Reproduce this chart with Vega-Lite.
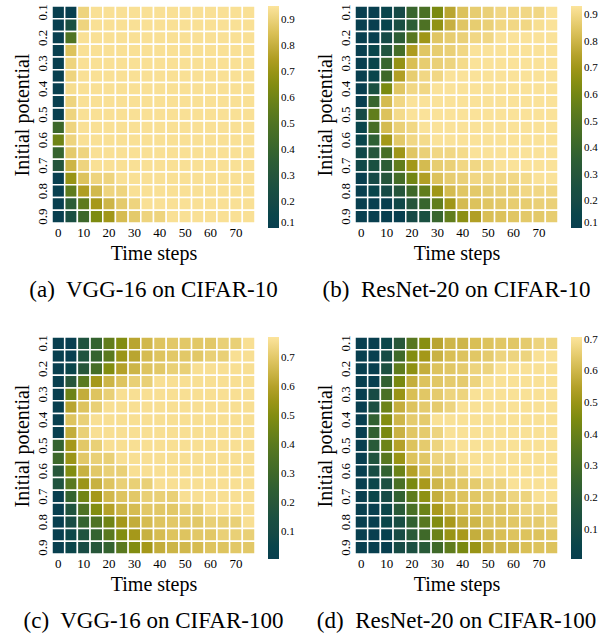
{
"$schema":"https://vega.github.io/schema/vega-lite/v6.json",
"padding":{"left":12,"top":3,"right":2,"bottom":2},
"config":{"font":"Liberation Serif","view":{"stroke":null},
"axis":{"domain":false,"ticks":false,"labelFont":"Liberation Serif","titleFont":"Liberation Serif","labelColor":"black","titleColor":"black","labelFontSize":13,"titleFontSize":20,"titleFontWeight":"normal","labelPadding":3},
"legend":{"labelFont":"Liberation Serif","labelFontSize":11,"labelColor":"black","gradientThickness":11,"gradientLength":222,"gradientStrokeWidth":0,"offset":13,"labelOffset":6},
"title":{"font":"Liberation Serif","fontSize":23,"fontWeight":"normal","color":"black"}},
"datasets":{
"a":[
{"y":0.1,"t":0,"v":0.1},{"y":0.1,"t":5,"v":0.1},{"y":0.1,"t":10,"v":0.91},{"y":0.1,"t":15,"v":0.945},{"y":0.1,"t":20,"v":0.945},{"y":0.1,"t":25,"v":0.945},{"y":0.1,"t":30,"v":0.945},{"y":0.1,"t":35,"v":0.945},{"y":0.1,"t":40,"v":0.945},{"y":0.1,"t":45,"v":0.945},{"y":0.1,"t":50,"v":0.945},{"y":0.1,"t":55,"v":0.945},{"y":0.1,"t":60,"v":0.945},{"y":0.1,"t":65,"v":0.945},{"y":0.1,"t":70,"v":0.945},{"y":0.1,"t":75,"v":0.945},
{"y":0.15,"t":0,"v":0.1},{"y":0.15,"t":5,"v":0.25},{"y":0.15,"t":10,"v":0.91},{"y":0.15,"t":15,"v":0.945},{"y":0.15,"t":20,"v":0.945},{"y":0.15,"t":25,"v":0.945},{"y":0.15,"t":30,"v":0.945},{"y":0.15,"t":35,"v":0.945},{"y":0.15,"t":40,"v":0.945},{"y":0.15,"t":45,"v":0.945},{"y":0.15,"t":50,"v":0.945},{"y":0.15,"t":55,"v":0.945},{"y":0.15,"t":60,"v":0.945},{"y":0.15,"t":65,"v":0.945},{"y":0.15,"t":70,"v":0.945},{"y":0.15,"t":75,"v":0.945},
{"y":0.2,"t":0,"v":0.1},{"y":0.2,"t":5,"v":0.5},{"y":0.2,"t":10,"v":0.945},{"y":0.2,"t":15,"v":0.945},{"y":0.2,"t":20,"v":0.945},{"y":0.2,"t":25,"v":0.945},{"y":0.2,"t":30,"v":0.945},{"y":0.2,"t":35,"v":0.945},{"y":0.2,"t":40,"v":0.945},{"y":0.2,"t":45,"v":0.945},{"y":0.2,"t":50,"v":0.945},{"y":0.2,"t":55,"v":0.945},{"y":0.2,"t":60,"v":0.945},{"y":0.2,"t":65,"v":0.945},{"y":0.2,"t":70,"v":0.945},{"y":0.2,"t":75,"v":0.945},
{"y":0.25,"t":0,"v":0.1},{"y":0.25,"t":5,"v":0.86},{"y":0.25,"t":10,"v":0.945},{"y":0.25,"t":15,"v":0.945},{"y":0.25,"t":20,"v":0.945},{"y":0.25,"t":25,"v":0.945},{"y":0.25,"t":30,"v":0.945},{"y":0.25,"t":35,"v":0.945},{"y":0.25,"t":40,"v":0.945},{"y":0.25,"t":45,"v":0.945},{"y":0.25,"t":50,"v":0.945},{"y":0.25,"t":55,"v":0.945},{"y":0.25,"t":60,"v":0.945},{"y":0.25,"t":65,"v":0.945},{"y":0.25,"t":70,"v":0.945},{"y":0.25,"t":75,"v":0.945},
{"y":0.3,"t":0,"v":0.1},{"y":0.3,"t":5,"v":0.91},{"y":0.3,"t":10,"v":0.945},{"y":0.3,"t":15,"v":0.945},{"y":0.3,"t":20,"v":0.945},{"y":0.3,"t":25,"v":0.945},{"y":0.3,"t":30,"v":0.945},{"y":0.3,"t":35,"v":0.945},{"y":0.3,"t":40,"v":0.945},{"y":0.3,"t":45,"v":0.945},{"y":0.3,"t":50,"v":0.945},{"y":0.3,"t":55,"v":0.945},{"y":0.3,"t":60,"v":0.945},{"y":0.3,"t":65,"v":0.945},{"y":0.3,"t":70,"v":0.945},{"y":0.3,"t":75,"v":0.945},
{"y":0.35,"t":0,"v":0.1},{"y":0.35,"t":5,"v":0.91},{"y":0.35,"t":10,"v":0.945},{"y":0.35,"t":15,"v":0.945},{"y":0.35,"t":20,"v":0.945},{"y":0.35,"t":25,"v":0.945},{"y":0.35,"t":30,"v":0.945},{"y":0.35,"t":35,"v":0.945},{"y":0.35,"t":40,"v":0.945},{"y":0.35,"t":45,"v":0.945},{"y":0.35,"t":50,"v":0.945},{"y":0.35,"t":55,"v":0.945},{"y":0.35,"t":60,"v":0.945},{"y":0.35,"t":65,"v":0.945},{"y":0.35,"t":70,"v":0.945},{"y":0.35,"t":75,"v":0.945},
{"y":0.4,"t":0,"v":0.1},{"y":0.4,"t":5,"v":0.935},{"y":0.4,"t":10,"v":0.945},{"y":0.4,"t":15,"v":0.945},{"y":0.4,"t":20,"v":0.945},{"y":0.4,"t":25,"v":0.945},{"y":0.4,"t":30,"v":0.945},{"y":0.4,"t":35,"v":0.945},{"y":0.4,"t":40,"v":0.945},{"y":0.4,"t":45,"v":0.945},{"y":0.4,"t":50,"v":0.945},{"y":0.4,"t":55,"v":0.945},{"y":0.4,"t":60,"v":0.945},{"y":0.4,"t":65,"v":0.945},{"y":0.4,"t":70,"v":0.945},{"y":0.4,"t":75,"v":0.945},
{"y":0.45,"t":0,"v":0.1},{"y":0.45,"t":5,"v":0.91},{"y":0.45,"t":10,"v":0.945},{"y":0.45,"t":15,"v":0.945},{"y":0.45,"t":20,"v":0.945},{"y":0.45,"t":25,"v":0.945},{"y":0.45,"t":30,"v":0.945},{"y":0.45,"t":35,"v":0.945},{"y":0.45,"t":40,"v":0.945},{"y":0.45,"t":45,"v":0.945},{"y":0.45,"t":50,"v":0.945},{"y":0.45,"t":55,"v":0.945},{"y":0.45,"t":60,"v":0.945},{"y":0.45,"t":65,"v":0.945},{"y":0.45,"t":70,"v":0.945},{"y":0.45,"t":75,"v":0.945},
{"y":0.5,"t":0,"v":0.1},{"y":0.5,"t":5,"v":0.91},{"y":0.5,"t":10,"v":0.945},{"y":0.5,"t":15,"v":0.945},{"y":0.5,"t":20,"v":0.945},{"y":0.5,"t":25,"v":0.945},{"y":0.5,"t":30,"v":0.945},{"y":0.5,"t":35,"v":0.945},{"y":0.5,"t":40,"v":0.945},{"y":0.5,"t":45,"v":0.945},{"y":0.5,"t":50,"v":0.945},{"y":0.5,"t":55,"v":0.945},{"y":0.5,"t":60,"v":0.945},{"y":0.5,"t":65,"v":0.945},{"y":0.5,"t":70,"v":0.945},{"y":0.5,"t":75,"v":0.945},
{"y":0.55,"t":0,"v":0.42},{"y":0.55,"t":5,"v":0.91},{"y":0.55,"t":10,"v":0.945},{"y":0.55,"t":15,"v":0.945},{"y":0.55,"t":20,"v":0.945},{"y":0.55,"t":25,"v":0.945},{"y":0.55,"t":30,"v":0.945},{"y":0.55,"t":35,"v":0.945},{"y":0.55,"t":40,"v":0.945},{"y":0.55,"t":45,"v":0.945},{"y":0.55,"t":50,"v":0.945},{"y":0.55,"t":55,"v":0.945},{"y":0.55,"t":60,"v":0.945},{"y":0.55,"t":65,"v":0.945},{"y":0.55,"t":70,"v":0.945},{"y":0.55,"t":75,"v":0.945},
{"y":0.6,"t":0,"v":0.6},{"y":0.6,"t":5,"v":0.91},{"y":0.6,"t":10,"v":0.945},{"y":0.6,"t":15,"v":0.945},{"y":0.6,"t":20,"v":0.945},{"y":0.6,"t":25,"v":0.945},{"y":0.6,"t":30,"v":0.945},{"y":0.6,"t":35,"v":0.945},{"y":0.6,"t":40,"v":0.945},{"y":0.6,"t":45,"v":0.945},{"y":0.6,"t":50,"v":0.945},{"y":0.6,"t":55,"v":0.945},{"y":0.6,"t":60,"v":0.945},{"y":0.6,"t":65,"v":0.945},{"y":0.6,"t":70,"v":0.945},{"y":0.6,"t":75,"v":0.945},
{"y":0.65,"t":0,"v":0.4},{"y":0.65,"t":5,"v":0.88},{"y":0.65,"t":10,"v":0.91},{"y":0.65,"t":15,"v":0.945},{"y":0.65,"t":20,"v":0.945},{"y":0.65,"t":25,"v":0.945},{"y":0.65,"t":30,"v":0.945},{"y":0.65,"t":35,"v":0.945},{"y":0.65,"t":40,"v":0.945},{"y":0.65,"t":45,"v":0.945},{"y":0.65,"t":50,"v":0.945},{"y":0.65,"t":55,"v":0.945},{"y":0.65,"t":60,"v":0.945},{"y":0.65,"t":65,"v":0.945},{"y":0.65,"t":70,"v":0.945},{"y":0.65,"t":75,"v":0.945},
{"y":0.7,"t":0,"v":0.3},{"y":0.7,"t":5,"v":0.82},{"y":0.7,"t":10,"v":0.91},{"y":0.7,"t":15,"v":0.945},{"y":0.7,"t":20,"v":0.945},{"y":0.7,"t":25,"v":0.945},{"y":0.7,"t":30,"v":0.945},{"y":0.7,"t":35,"v":0.945},{"y":0.7,"t":40,"v":0.945},{"y":0.7,"t":45,"v":0.945},{"y":0.7,"t":50,"v":0.945},{"y":0.7,"t":55,"v":0.945},{"y":0.7,"t":60,"v":0.945},{"y":0.7,"t":65,"v":0.945},{"y":0.7,"t":70,"v":0.945},{"y":0.7,"t":75,"v":0.945},
{"y":0.75,"t":0,"v":0.1},{"y":0.75,"t":5,"v":0.7},{"y":0.75,"t":10,"v":0.86},{"y":0.75,"t":15,"v":0.91},{"y":0.75,"t":20,"v":0.91},{"y":0.75,"t":25,"v":0.945},{"y":0.75,"t":30,"v":0.945},{"y":0.75,"t":35,"v":0.945},{"y":0.75,"t":40,"v":0.945},{"y":0.75,"t":45,"v":0.945},{"y":0.75,"t":50,"v":0.945},{"y":0.75,"t":55,"v":0.945},{"y":0.75,"t":60,"v":0.945},{"y":0.75,"t":65,"v":0.945},{"y":0.75,"t":70,"v":0.945},{"y":0.75,"t":75,"v":0.945},
{"y":0.8,"t":0,"v":0.1},{"y":0.8,"t":5,"v":0.55},{"y":0.8,"t":10,"v":0.75},{"y":0.8,"t":15,"v":0.83},{"y":0.8,"t":20,"v":0.91},{"y":0.8,"t":25,"v":0.91},{"y":0.8,"t":30,"v":0.945},{"y":0.8,"t":35,"v":0.945},{"y":0.8,"t":40,"v":0.945},{"y":0.8,"t":45,"v":0.945},{"y":0.8,"t":50,"v":0.945},{"y":0.8,"t":55,"v":0.945},{"y":0.8,"t":60,"v":0.945},{"y":0.8,"t":65,"v":0.945},{"y":0.8,"t":70,"v":0.945},{"y":0.8,"t":75,"v":0.945},
{"y":0.85,"t":0,"v":0.1},{"y":0.85,"t":5,"v":0.35},{"y":0.85,"t":10,"v":0.55},{"y":0.85,"t":15,"v":0.73},{"y":0.85,"t":20,"v":0.82},{"y":0.85,"t":25,"v":0.88},{"y":0.85,"t":30,"v":0.91},{"y":0.85,"t":35,"v":0.945},{"y":0.85,"t":40,"v":0.945},{"y":0.85,"t":45,"v":0.945},{"y":0.85,"t":50,"v":0.945},{"y":0.85,"t":55,"v":0.945},{"y":0.85,"t":60,"v":0.945},{"y":0.85,"t":65,"v":0.945},{"y":0.85,"t":70,"v":0.945},{"y":0.85,"t":75,"v":0.945},
{"y":0.9,"t":0,"v":0.1},{"y":0.9,"t":5,"v":0.25},{"y":0.9,"t":10,"v":0.42},{"y":0.9,"t":15,"v":0.64},{"y":0.9,"t":20,"v":0.72},{"y":0.9,"t":25,"v":0.84},{"y":0.9,"t":30,"v":0.88},{"y":0.9,"t":35,"v":0.91},{"y":0.9,"t":40,"v":0.91},{"y":0.9,"t":45,"v":0.945},{"y":0.9,"t":50,"v":0.945},{"y":0.9,"t":55,"v":0.945},{"y":0.9,"t":60,"v":0.945},{"y":0.9,"t":65,"v":0.945},{"y":0.9,"t":70,"v":0.945},{"y":0.9,"t":75,"v":0.945}
],
"b":[
{"y":0.1,"t":0,"v":0.1},{"y":0.1,"t":5,"v":0.1},{"y":0.1,"t":10,"v":0.14},{"y":0.1,"t":15,"v":0.2},{"y":0.1,"t":20,"v":0.4},{"y":0.1,"t":25,"v":0.47},{"y":0.1,"t":30,"v":0.62},{"y":0.1,"t":35,"v":0.76},{"y":0.1,"t":40,"v":0.84},{"y":0.1,"t":45,"v":0.87},{"y":0.1,"t":50,"v":0.88},{"y":0.1,"t":55,"v":0.9},{"y":0.1,"t":60,"v":0.9},{"y":0.1,"t":65,"v":0.9},{"y":0.1,"t":70,"v":0.9},{"y":0.1,"t":75,"v":0.93},
{"y":0.15,"t":0,"v":0.1},{"y":0.15,"t":5,"v":0.1},{"y":0.15,"t":10,"v":0.14},{"y":0.15,"t":15,"v":0.24},{"y":0.15,"t":20,"v":0.35},{"y":0.15,"t":25,"v":0.48},{"y":0.15,"t":30,"v":0.67},{"y":0.15,"t":35,"v":0.79},{"y":0.15,"t":40,"v":0.85},{"y":0.15,"t":45,"v":0.87},{"y":0.15,"t":50,"v":0.88},{"y":0.15,"t":55,"v":0.9},{"y":0.15,"t":60,"v":0.9},{"y":0.15,"t":65,"v":0.9},{"y":0.15,"t":70,"v":0.92},{"y":0.15,"t":75,"v":0.93},
{"y":0.2,"t":0,"v":0.1},{"y":0.2,"t":5,"v":0.1},{"y":0.2,"t":10,"v":0.2},{"y":0.2,"t":15,"v":0.35},{"y":0.2,"t":20,"v":0.52},{"y":0.2,"t":25,"v":0.7},{"y":0.2,"t":30,"v":0.85},{"y":0.2,"t":35,"v":0.87},{"y":0.2,"t":40,"v":0.88},{"y":0.2,"t":45,"v":0.9},{"y":0.2,"t":50,"v":0.9},{"y":0.2,"t":55,"v":0.93},{"y":0.2,"t":60,"v":0.93},{"y":0.2,"t":65,"v":0.93},{"y":0.2,"t":70,"v":0.93},{"y":0.2,"t":75,"v":0.93},
{"y":0.25,"t":0,"v":0.1},{"y":0.25,"t":5,"v":0.15},{"y":0.25,"t":10,"v":0.28},{"y":0.25,"t":15,"v":0.45},{"y":0.25,"t":20,"v":0.73},{"y":0.25,"t":25,"v":0.85},{"y":0.25,"t":30,"v":0.87},{"y":0.25,"t":35,"v":0.88},{"y":0.25,"t":40,"v":0.9},{"y":0.25,"t":45,"v":0.93},{"y":0.25,"t":50,"v":0.93},{"y":0.25,"t":55,"v":0.93},{"y":0.25,"t":60,"v":0.93},{"y":0.25,"t":65,"v":0.93},{"y":0.25,"t":70,"v":0.93},{"y":0.25,"t":75,"v":0.93},
{"y":0.3,"t":0,"v":0.1},{"y":0.3,"t":5,"v":0.15},{"y":0.3,"t":10,"v":0.4},{"y":0.3,"t":15,"v":0.68},{"y":0.3,"t":20,"v":0.83},{"y":0.3,"t":25,"v":0.87},{"y":0.3,"t":30,"v":0.88},{"y":0.3,"t":35,"v":0.89},{"y":0.3,"t":40,"v":0.91},{"y":0.3,"t":45,"v":0.93},{"y":0.3,"t":50,"v":0.93},{"y":0.3,"t":55,"v":0.93},{"y":0.3,"t":60,"v":0.93},{"y":0.3,"t":65,"v":0.93},{"y":0.3,"t":70,"v":0.93},{"y":0.3,"t":75,"v":0.93},
{"y":0.35,"t":0,"v":0.1},{"y":0.35,"t":5,"v":0.15},{"y":0.35,"t":10,"v":0.42},{"y":0.35,"t":15,"v":0.74},{"y":0.35,"t":20,"v":0.87},{"y":0.35,"t":25,"v":0.9},{"y":0.35,"t":30,"v":0.9},{"y":0.35,"t":35,"v":0.93},{"y":0.35,"t":40,"v":0.93},{"y":0.35,"t":45,"v":0.93},{"y":0.35,"t":50,"v":0.93},{"y":0.35,"t":55,"v":0.93},{"y":0.35,"t":60,"v":0.93},{"y":0.35,"t":65,"v":0.93},{"y":0.35,"t":70,"v":0.93},{"y":0.35,"t":75,"v":0.93},
{"y":0.4,"t":0,"v":0.1},{"y":0.4,"t":5,"v":0.25},{"y":0.4,"t":10,"v":0.62},{"y":0.4,"t":15,"v":0.85},{"y":0.4,"t":20,"v":0.9},{"y":0.4,"t":25,"v":0.9},{"y":0.4,"t":30,"v":0.93},{"y":0.4,"t":35,"v":0.93},{"y":0.4,"t":40,"v":0.93},{"y":0.4,"t":45,"v":0.93},{"y":0.4,"t":50,"v":0.93},{"y":0.4,"t":55,"v":0.93},{"y":0.4,"t":60,"v":0.93},{"y":0.4,"t":65,"v":0.93},{"y":0.4,"t":70,"v":0.93},{"y":0.4,"t":75,"v":0.93},
{"y":0.45,"t":0,"v":0.1},{"y":0.45,"t":5,"v":0.4},{"y":0.45,"t":10,"v":0.82},{"y":0.45,"t":15,"v":0.9},{"y":0.45,"t":20,"v":0.93},{"y":0.45,"t":25,"v":0.93},{"y":0.45,"t":30,"v":0.93},{"y":0.45,"t":35,"v":0.93},{"y":0.45,"t":40,"v":0.93},{"y":0.45,"t":45,"v":0.93},{"y":0.45,"t":50,"v":0.93},{"y":0.45,"t":55,"v":0.93},{"y":0.45,"t":60,"v":0.93},{"y":0.45,"t":65,"v":0.93},{"y":0.45,"t":70,"v":0.93},{"y":0.45,"t":75,"v":0.93},
{"y":0.5,"t":0,"v":0.2},{"y":0.5,"t":5,"v":0.55},{"y":0.5,"t":10,"v":0.84},{"y":0.5,"t":15,"v":0.91},{"y":0.5,"t":20,"v":0.93},{"y":0.5,"t":25,"v":0.93},{"y":0.5,"t":30,"v":0.93},{"y":0.5,"t":35,"v":0.93},{"y":0.5,"t":40,"v":0.93},{"y":0.5,"t":45,"v":0.93},{"y":0.5,"t":50,"v":0.93},{"y":0.5,"t":55,"v":0.93},{"y":0.5,"t":60,"v":0.93},{"y":0.5,"t":65,"v":0.93},{"y":0.5,"t":70,"v":0.93},{"y":0.5,"t":75,"v":0.93},
{"y":0.55,"t":0,"v":0.15},{"y":0.55,"t":5,"v":0.46},{"y":0.55,"t":10,"v":0.82},{"y":0.55,"t":15,"v":0.88},{"y":0.55,"t":20,"v":0.9},{"y":0.55,"t":25,"v":0.93},{"y":0.55,"t":30,"v":0.93},{"y":0.55,"t":35,"v":0.93},{"y":0.55,"t":40,"v":0.93},{"y":0.55,"t":45,"v":0.93},{"y":0.55,"t":50,"v":0.93},{"y":0.55,"t":55,"v":0.93},{"y":0.55,"t":60,"v":0.93},{"y":0.55,"t":65,"v":0.93},{"y":0.55,"t":70,"v":0.93},{"y":0.55,"t":75,"v":0.93},
{"y":0.6,"t":0,"v":0.15},{"y":0.6,"t":5,"v":0.36},{"y":0.6,"t":10,"v":0.71},{"y":0.6,"t":15,"v":0.86},{"y":0.6,"t":20,"v":0.9},{"y":0.6,"t":25,"v":0.91},{"y":0.6,"t":30,"v":0.93},{"y":0.6,"t":35,"v":0.93},{"y":0.6,"t":40,"v":0.93},{"y":0.6,"t":45,"v":0.93},{"y":0.6,"t":50,"v":0.93},{"y":0.6,"t":55,"v":0.93},{"y":0.6,"t":60,"v":0.93},{"y":0.6,"t":65,"v":0.93},{"y":0.6,"t":70,"v":0.93},{"y":0.6,"t":75,"v":0.93},
{"y":0.65,"t":0,"v":0.18},{"y":0.65,"t":5,"v":0.3},{"y":0.65,"t":10,"v":0.46},{"y":0.65,"t":15,"v":0.7},{"y":0.65,"t":20,"v":0.85},{"y":0.65,"t":25,"v":0.88},{"y":0.65,"t":30,"v":0.9},{"y":0.65,"t":35,"v":0.9},{"y":0.65,"t":40,"v":0.91},{"y":0.65,"t":45,"v":0.93},{"y":0.65,"t":50,"v":0.93},{"y":0.65,"t":55,"v":0.93},{"y":0.65,"t":60,"v":0.93},{"y":0.65,"t":65,"v":0.93},{"y":0.65,"t":70,"v":0.93},{"y":0.65,"t":75,"v":0.93},
{"y":0.7,"t":0,"v":0.18},{"y":0.7,"t":5,"v":0.25},{"y":0.7,"t":10,"v":0.35},{"y":0.7,"t":15,"v":0.55},{"y":0.7,"t":20,"v":0.71},{"y":0.7,"t":25,"v":0.82},{"y":0.7,"t":30,"v":0.87},{"y":0.7,"t":35,"v":0.88},{"y":0.7,"t":40,"v":0.9},{"y":0.7,"t":45,"v":0.9},{"y":0.7,"t":50,"v":0.91},{"y":0.7,"t":55,"v":0.93},{"y":0.7,"t":60,"v":0.93},{"y":0.7,"t":65,"v":0.93},{"y":0.7,"t":70,"v":0.93},{"y":0.7,"t":75,"v":0.93},
{"y":0.75,"t":0,"v":0.1},{"y":0.75,"t":5,"v":0.2},{"y":0.75,"t":10,"v":0.3},{"y":0.75,"t":15,"v":0.45},{"y":0.75,"t":20,"v":0.6},{"y":0.75,"t":25,"v":0.74},{"y":0.75,"t":30,"v":0.84},{"y":0.75,"t":35,"v":0.87},{"y":0.75,"t":40,"v":0.88},{"y":0.75,"t":45,"v":0.9},{"y":0.75,"t":50,"v":0.9},{"y":0.75,"t":55,"v":0.9},{"y":0.75,"t":60,"v":0.9},{"y":0.75,"t":65,"v":0.91},{"y":0.75,"t":70,"v":0.93},{"y":0.75,"t":75,"v":0.93},
{"y":0.8,"t":0,"v":0.1},{"y":0.8,"t":5,"v":0.15},{"y":0.8,"t":10,"v":0.2},{"y":0.8,"t":15,"v":0.3},{"y":0.8,"t":20,"v":0.42},{"y":0.8,"t":25,"v":0.55},{"y":0.8,"t":30,"v":0.7},{"y":0.8,"t":35,"v":0.82},{"y":0.8,"t":40,"v":0.85},{"y":0.8,"t":45,"v":0.86},{"y":0.8,"t":50,"v":0.87},{"y":0.8,"t":55,"v":0.88},{"y":0.8,"t":60,"v":0.88},{"y":0.8,"t":65,"v":0.9},{"y":0.8,"t":70,"v":0.9},{"y":0.8,"t":75,"v":0.9},
{"y":0.85,"t":0,"v":0.1},{"y":0.85,"t":5,"v":0.1},{"y":0.85,"t":10,"v":0.1},{"y":0.85,"t":15,"v":0.18},{"y":0.85,"t":20,"v":0.3},{"y":0.85,"t":25,"v":0.4},{"y":0.85,"t":30,"v":0.55},{"y":0.85,"t":35,"v":0.7},{"y":0.85,"t":40,"v":0.82},{"y":0.85,"t":45,"v":0.84},{"y":0.85,"t":50,"v":0.85},{"y":0.85,"t":55,"v":0.86},{"y":0.85,"t":60,"v":0.87},{"y":0.85,"t":65,"v":0.87},{"y":0.85,"t":70,"v":0.88},{"y":0.85,"t":75,"v":0.88},
{"y":0.9,"t":0,"v":0.1},{"y":0.9,"t":5,"v":0.1},{"y":0.9,"t":10,"v":0.1},{"y":0.9,"t":15,"v":0.1},{"y":0.9,"t":20,"v":0.2},{"y":0.9,"t":25,"v":0.25},{"y":0.9,"t":30,"v":0.4},{"y":0.9,"t":35,"v":0.55},{"y":0.9,"t":40,"v":0.66},{"y":0.9,"t":45,"v":0.74},{"y":0.9,"t":50,"v":0.83},{"y":0.9,"t":55,"v":0.84},{"y":0.9,"t":60,"v":0.85},{"y":0.9,"t":65,"v":0.86},{"y":0.9,"t":70,"v":0.86},{"y":0.9,"t":75,"v":0.87}
],
"c":[
{"y":0.1,"t":0,"v":0.01},{"y":0.1,"t":5,"v":0.01},{"y":0.1,"t":10,"v":0.17},{"y":0.1,"t":15,"v":0.27},{"y":0.1,"t":20,"v":0.42},{"y":0.1,"t":25,"v":0.5},{"y":0.1,"t":30,"v":0.61},{"y":0.1,"t":35,"v":0.66},{"y":0.1,"t":40,"v":0.69},{"y":0.1,"t":45,"v":0.7},{"y":0.1,"t":50,"v":0.7},{"y":0.1,"t":55,"v":0.7},{"y":0.1,"t":60,"v":0.7},{"y":0.1,"t":65,"v":0.72},{"y":0.1,"t":70,"v":0.72},{"y":0.1,"t":75,"v":0.76},
{"y":0.15,"t":0,"v":0.01},{"y":0.15,"t":5,"v":0.01},{"y":0.15,"t":10,"v":0.17},{"y":0.15,"t":15,"v":0.27},{"y":0.15,"t":20,"v":0.4},{"y":0.15,"t":25,"v":0.55},{"y":0.15,"t":30,"v":0.61},{"y":0.15,"t":35,"v":0.67},{"y":0.15,"t":40,"v":0.69},{"y":0.15,"t":45,"v":0.7},{"y":0.15,"t":50,"v":0.7},{"y":0.15,"t":55,"v":0.7},{"y":0.15,"t":60,"v":0.72},{"y":0.15,"t":65,"v":0.72},{"y":0.15,"t":70,"v":0.76},{"y":0.15,"t":75,"v":0.76},
{"y":0.2,"t":0,"v":0.01},{"y":0.2,"t":5,"v":0.06},{"y":0.2,"t":10,"v":0.2},{"y":0.2,"t":15,"v":0.33},{"y":0.2,"t":20,"v":0.5},{"y":0.2,"t":25,"v":0.6},{"y":0.2,"t":30,"v":0.65},{"y":0.2,"t":35,"v":0.69},{"y":0.2,"t":40,"v":0.7},{"y":0.2,"t":45,"v":0.72},{"y":0.2,"t":50,"v":0.72},{"y":0.2,"t":55,"v":0.76},{"y":0.2,"t":60,"v":0.76},{"y":0.2,"t":65,"v":0.76},{"y":0.2,"t":70,"v":0.76},{"y":0.2,"t":75,"v":0.76},
{"y":0.25,"t":0,"v":0.01},{"y":0.25,"t":5,"v":0.2},{"y":0.25,"t":10,"v":0.4},{"y":0.25,"t":15,"v":0.57},{"y":0.25,"t":20,"v":0.65},{"y":0.25,"t":25,"v":0.69},{"y":0.25,"t":30,"v":0.72},{"y":0.25,"t":35,"v":0.72},{"y":0.25,"t":40,"v":0.76},{"y":0.25,"t":45,"v":0.76},{"y":0.25,"t":50,"v":0.76},{"y":0.25,"t":55,"v":0.76},{"y":0.25,"t":60,"v":0.76},{"y":0.25,"t":65,"v":0.76},{"y":0.25,"t":70,"v":0.76},{"y":0.25,"t":75,"v":0.76},
{"y":0.3,"t":0,"v":0.01},{"y":0.3,"t":5,"v":0.45},{"y":0.3,"t":10,"v":0.63},{"y":0.3,"t":15,"v":0.69},{"y":0.3,"t":20,"v":0.72},{"y":0.3,"t":25,"v":0.76},{"y":0.3,"t":30,"v":0.76},{"y":0.3,"t":35,"v":0.76},{"y":0.3,"t":40,"v":0.76},{"y":0.3,"t":45,"v":0.76},{"y":0.3,"t":50,"v":0.76},{"y":0.3,"t":55,"v":0.76},{"y":0.3,"t":60,"v":0.76},{"y":0.3,"t":65,"v":0.76},{"y":0.3,"t":70,"v":0.76},{"y":0.3,"t":75,"v":0.76},
{"y":0.35,"t":0,"v":0.01},{"y":0.35,"t":5,"v":0.61},{"y":0.35,"t":10,"v":0.69},{"y":0.35,"t":15,"v":0.72},{"y":0.35,"t":20,"v":0.76},{"y":0.35,"t":25,"v":0.76},{"y":0.35,"t":30,"v":0.76},{"y":0.35,"t":35,"v":0.76},{"y":0.35,"t":40,"v":0.76},{"y":0.35,"t":45,"v":0.76},{"y":0.35,"t":50,"v":0.76},{"y":0.35,"t":55,"v":0.76},{"y":0.35,"t":60,"v":0.76},{"y":0.35,"t":65,"v":0.76},{"y":0.35,"t":70,"v":0.76},{"y":0.35,"t":75,"v":0.76},
{"y":0.4,"t":0,"v":0.01},{"y":0.4,"t":5,"v":0.69},{"y":0.4,"t":10,"v":0.72},{"y":0.4,"t":15,"v":0.76},{"y":0.4,"t":20,"v":0.76},{"y":0.4,"t":25,"v":0.76},{"y":0.4,"t":30,"v":0.76},{"y":0.4,"t":35,"v":0.76},{"y":0.4,"t":40,"v":0.76},{"y":0.4,"t":45,"v":0.76},{"y":0.4,"t":50,"v":0.76},{"y":0.4,"t":55,"v":0.76},{"y":0.4,"t":60,"v":0.76},{"y":0.4,"t":65,"v":0.76},{"y":0.4,"t":70,"v":0.76},{"y":0.4,"t":75,"v":0.76},
{"y":0.45,"t":0,"v":0.01},{"y":0.45,"t":5,"v":0.63},{"y":0.45,"t":10,"v":0.72},{"y":0.45,"t":15,"v":0.76},{"y":0.45,"t":20,"v":0.76},{"y":0.45,"t":25,"v":0.76},{"y":0.45,"t":30,"v":0.76},{"y":0.45,"t":35,"v":0.76},{"y":0.45,"t":40,"v":0.76},{"y":0.45,"t":45,"v":0.76},{"y":0.45,"t":50,"v":0.76},{"y":0.45,"t":55,"v":0.76},{"y":0.45,"t":60,"v":0.76},{"y":0.45,"t":65,"v":0.76},{"y":0.45,"t":70,"v":0.76},{"y":0.45,"t":75,"v":0.76},
{"y":0.5,"t":0,"v":0.27},{"y":0.5,"t":5,"v":0.57},{"y":0.5,"t":10,"v":0.7},{"y":0.5,"t":15,"v":0.72},{"y":0.5,"t":20,"v":0.76},{"y":0.5,"t":25,"v":0.76},{"y":0.5,"t":30,"v":0.76},{"y":0.5,"t":35,"v":0.76},{"y":0.5,"t":40,"v":0.76},{"y":0.5,"t":45,"v":0.76},{"y":0.5,"t":50,"v":0.76},{"y":0.5,"t":55,"v":0.76},{"y":0.5,"t":60,"v":0.76},{"y":0.5,"t":65,"v":0.76},{"y":0.5,"t":70,"v":0.76},{"y":0.5,"t":75,"v":0.76},
{"y":0.55,"t":0,"v":0.3},{"y":0.55,"t":5,"v":0.55},{"y":0.55,"t":10,"v":0.7},{"y":0.55,"t":15,"v":0.72},{"y":0.55,"t":20,"v":0.72},{"y":0.55,"t":25,"v":0.76},{"y":0.55,"t":30,"v":0.76},{"y":0.55,"t":35,"v":0.76},{"y":0.55,"t":40,"v":0.76},{"y":0.55,"t":45,"v":0.76},{"y":0.55,"t":50,"v":0.76},{"y":0.55,"t":55,"v":0.76},{"y":0.55,"t":60,"v":0.76},{"y":0.55,"t":65,"v":0.76},{"y":0.55,"t":70,"v":0.76},{"y":0.55,"t":75,"v":0.76},
{"y":0.6,"t":0,"v":0.2},{"y":0.6,"t":5,"v":0.5},{"y":0.6,"t":10,"v":0.64},{"y":0.6,"t":15,"v":0.7},{"y":0.6,"t":20,"v":0.72},{"y":0.6,"t":25,"v":0.72},{"y":0.6,"t":30,"v":0.76},{"y":0.6,"t":35,"v":0.76},{"y":0.6,"t":40,"v":0.76},{"y":0.6,"t":45,"v":0.76},{"y":0.6,"t":50,"v":0.76},{"y":0.6,"t":55,"v":0.76},{"y":0.6,"t":60,"v":0.76},{"y":0.6,"t":65,"v":0.76},{"y":0.6,"t":70,"v":0.76},{"y":0.6,"t":75,"v":0.76},
{"y":0.65,"t":0,"v":0.17},{"y":0.65,"t":5,"v":0.4},{"y":0.65,"t":10,"v":0.55},{"y":0.65,"t":15,"v":0.64},{"y":0.65,"t":20,"v":0.69},{"y":0.65,"t":25,"v":0.72},{"y":0.65,"t":30,"v":0.72},{"y":0.65,"t":35,"v":0.72},{"y":0.65,"t":40,"v":0.76},{"y":0.65,"t":45,"v":0.76},{"y":0.65,"t":50,"v":0.76},{"y":0.65,"t":55,"v":0.76},{"y":0.65,"t":60,"v":0.76},{"y":0.65,"t":65,"v":0.76},{"y":0.65,"t":70,"v":0.76},{"y":0.65,"t":75,"v":0.76},
{"y":0.7,"t":0,"v":0.01},{"y":0.7,"t":5,"v":0.27},{"y":0.7,"t":10,"v":0.46},{"y":0.7,"t":15,"v":0.57},{"y":0.7,"t":20,"v":0.66},{"y":0.7,"t":25,"v":0.69},{"y":0.7,"t":30,"v":0.7},{"y":0.7,"t":35,"v":0.72},{"y":0.7,"t":40,"v":0.72},{"y":0.7,"t":45,"v":0.72},{"y":0.7,"t":50,"v":0.76},{"y":0.7,"t":55,"v":0.76},{"y":0.7,"t":60,"v":0.76},{"y":0.7,"t":65,"v":0.76},{"y":0.7,"t":70,"v":0.76},{"y":0.7,"t":75,"v":0.76},
{"y":0.75,"t":0,"v":0.01},{"y":0.75,"t":5,"v":0.17},{"y":0.75,"t":10,"v":0.36},{"y":0.75,"t":15,"v":0.5},{"y":0.75,"t":20,"v":0.6},{"y":0.75,"t":25,"v":0.65},{"y":0.75,"t":30,"v":0.67},{"y":0.75,"t":35,"v":0.7},{"y":0.75,"t":40,"v":0.7},{"y":0.75,"t":45,"v":0.7},{"y":0.75,"t":50,"v":0.72},{"y":0.75,"t":55,"v":0.72},{"y":0.75,"t":60,"v":0.76},{"y":0.75,"t":65,"v":0.76},{"y":0.75,"t":70,"v":0.76},{"y":0.75,"t":75,"v":0.76},
{"y":0.8,"t":0,"v":0.01},{"y":0.8,"t":5,"v":0.12},{"y":0.8,"t":10,"v":0.27},{"y":0.8,"t":15,"v":0.36},{"y":0.8,"t":20,"v":0.46},{"y":0.8,"t":25,"v":0.57},{"y":0.8,"t":30,"v":0.63},{"y":0.8,"t":35,"v":0.67},{"y":0.8,"t":40,"v":0.69},{"y":0.8,"t":45,"v":0.7},{"y":0.8,"t":50,"v":0.7},{"y":0.8,"t":55,"v":0.7},{"y":0.8,"t":60,"v":0.72},{"y":0.8,"t":65,"v":0.72},{"y":0.8,"t":70,"v":0.72},{"y":0.8,"t":75,"v":0.76},
{"y":0.85,"t":0,"v":0.01},{"y":0.85,"t":5,"v":0.07},{"y":0.85,"t":10,"v":0.17},{"y":0.85,"t":15,"v":0.27},{"y":0.85,"t":20,"v":0.4},{"y":0.85,"t":25,"v":0.5},{"y":0.85,"t":30,"v":0.57},{"y":0.85,"t":35,"v":0.64},{"y":0.85,"t":40,"v":0.67},{"y":0.85,"t":45,"v":0.69},{"y":0.85,"t":50,"v":0.69},{"y":0.85,"t":55,"v":0.7},{"y":0.85,"t":60,"v":0.7},{"y":0.85,"t":65,"v":0.72},{"y":0.85,"t":70,"v":0.72},{"y":0.85,"t":75,"v":0.72},
{"y":0.9,"t":0,"v":0.01},{"y":0.9,"t":5,"v":0.06},{"y":0.9,"t":10,"v":0.12},{"y":0.9,"t":15,"v":0.2},{"y":0.9,"t":20,"v":0.27},{"y":0.9,"t":25,"v":0.4},{"y":0.9,"t":30,"v":0.5},{"y":0.9,"t":35,"v":0.57},{"y":0.9,"t":40,"v":0.63},{"y":0.9,"t":45,"v":0.65},{"y":0.9,"t":50,"v":0.66},{"y":0.9,"t":55,"v":0.67},{"y":0.9,"t":60,"v":0.69},{"y":0.9,"t":65,"v":0.69},{"y":0.9,"t":70,"v":0.7},{"y":0.9,"t":75,"v":0.7}
],
"d":[
{"y":0.1,"t":0,"v":0.01},{"y":0.1,"t":5,"v":0.01},{"y":0.1,"t":10,"v":0.06},{"y":0.1,"t":15,"v":0.19},{"y":0.1,"t":20,"v":0.36},{"y":0.1,"t":25,"v":0.47},{"y":0.1,"t":30,"v":0.56},{"y":0.1,"t":35,"v":0.6},{"y":0.1,"t":40,"v":0.6},{"y":0.1,"t":45,"v":0.62},{"y":0.1,"t":50,"v":0.63},{"y":0.1,"t":55,"v":0.64},{"y":0.1,"t":60,"v":0.64},{"y":0.1,"t":65,"v":0.65},{"y":0.1,"t":70,"v":0.67},{"y":0.1,"t":75,"v":0.67},
{"y":0.15,"t":0,"v":0.01},{"y":0.15,"t":5,"v":0.01},{"y":0.15,"t":10,"v":0.1},{"y":0.15,"t":15,"v":0.28},{"y":0.15,"t":20,"v":0.46},{"y":0.15,"t":25,"v":0.52},{"y":0.15,"t":30,"v":0.59},{"y":0.15,"t":35,"v":0.62},{"y":0.15,"t":40,"v":0.63},{"y":0.15,"t":45,"v":0.64},{"y":0.15,"t":50,"v":0.65},{"y":0.15,"t":55,"v":0.67},{"y":0.15,"t":60,"v":0.67},{"y":0.15,"t":65,"v":0.67},{"y":0.15,"t":70,"v":0.7},{"y":0.15,"t":75,"v":0.7},
{"y":0.2,"t":0,"v":0.01},{"y":0.2,"t":5,"v":0.01},{"y":0.2,"t":10,"v":0.14},{"y":0.2,"t":15,"v":0.38},{"y":0.2,"t":20,"v":0.48},{"y":0.2,"t":25,"v":0.58},{"y":0.2,"t":30,"v":0.63},{"y":0.2,"t":35,"v":0.64},{"y":0.2,"t":40,"v":0.65},{"y":0.2,"t":45,"v":0.67},{"y":0.2,"t":50,"v":0.67},{"y":0.2,"t":55,"v":0.7},{"y":0.2,"t":60,"v":0.7},{"y":0.2,"t":65,"v":0.7},{"y":0.2,"t":70,"v":0.7},{"y":0.2,"t":75,"v":0.7},
{"y":0.25,"t":0,"v":0.01},{"y":0.25,"t":5,"v":0.01},{"y":0.25,"t":10,"v":0.24},{"y":0.25,"t":15,"v":0.44},{"y":0.25,"t":20,"v":0.58},{"y":0.25,"t":25,"v":0.63},{"y":0.25,"t":30,"v":0.64},{"y":0.25,"t":35,"v":0.65},{"y":0.25,"t":40,"v":0.65},{"y":0.25,"t":45,"v":0.67},{"y":0.25,"t":50,"v":0.7},{"y":0.25,"t":55,"v":0.7},{"y":0.25,"t":60,"v":0.7},{"y":0.25,"t":65,"v":0.7},{"y":0.25,"t":70,"v":0.7},{"y":0.25,"t":75,"v":0.7},
{"y":0.3,"t":0,"v":0.01},{"y":0.3,"t":5,"v":0.1},{"y":0.3,"t":10,"v":0.32},{"y":0.3,"t":15,"v":0.5},{"y":0.3,"t":20,"v":0.62},{"y":0.3,"t":25,"v":0.64},{"y":0.3,"t":30,"v":0.65},{"y":0.3,"t":35,"v":0.67},{"y":0.3,"t":40,"v":0.67},{"y":0.3,"t":45,"v":0.7},{"y":0.3,"t":50,"v":0.7},{"y":0.3,"t":55,"v":0.7},{"y":0.3,"t":60,"v":0.7},{"y":0.3,"t":65,"v":0.7},{"y":0.3,"t":70,"v":0.7},{"y":0.3,"t":75,"v":0.7},
{"y":0.35,"t":0,"v":0.01},{"y":0.35,"t":5,"v":0.14},{"y":0.35,"t":10,"v":0.41},{"y":0.35,"t":15,"v":0.58},{"y":0.35,"t":20,"v":0.63},{"y":0.35,"t":25,"v":0.65},{"y":0.35,"t":30,"v":0.65},{"y":0.35,"t":35,"v":0.67},{"y":0.35,"t":40,"v":0.7},{"y":0.35,"t":45,"v":0.7},{"y":0.35,"t":50,"v":0.7},{"y":0.35,"t":55,"v":0.7},{"y":0.35,"t":60,"v":0.7},{"y":0.35,"t":65,"v":0.7},{"y":0.35,"t":70,"v":0.7},{"y":0.35,"t":75,"v":0.7},
{"y":0.4,"t":0,"v":0.01},{"y":0.4,"t":5,"v":0.24},{"y":0.4,"t":10,"v":0.46},{"y":0.4,"t":15,"v":0.6},{"y":0.4,"t":20,"v":0.65},{"y":0.4,"t":25,"v":0.65},{"y":0.4,"t":30,"v":0.7},{"y":0.4,"t":35,"v":0.7},{"y":0.4,"t":40,"v":0.7},{"y":0.4,"t":45,"v":0.7},{"y":0.4,"t":50,"v":0.7},{"y":0.4,"t":55,"v":0.7},{"y":0.4,"t":60,"v":0.7},{"y":0.4,"t":65,"v":0.7},{"y":0.4,"t":70,"v":0.7},{"y":0.4,"t":75,"v":0.7},
{"y":0.45,"t":0,"v":0.01},{"y":0.45,"t":5,"v":0.24},{"y":0.45,"t":10,"v":0.44},{"y":0.45,"t":15,"v":0.59},{"y":0.45,"t":20,"v":0.64},{"y":0.45,"t":25,"v":0.65},{"y":0.45,"t":30,"v":0.67},{"y":0.45,"t":35,"v":0.7},{"y":0.45,"t":40,"v":0.7},{"y":0.45,"t":45,"v":0.7},{"y":0.45,"t":50,"v":0.7},{"y":0.45,"t":55,"v":0.7},{"y":0.45,"t":60,"v":0.7},{"y":0.45,"t":65,"v":0.7},{"y":0.45,"t":70,"v":0.7},{"y":0.45,"t":75,"v":0.7},
{"y":0.5,"t":0,"v":0.01},{"y":0.5,"t":5,"v":0.2},{"y":0.5,"t":10,"v":0.41},{"y":0.5,"t":15,"v":0.55},{"y":0.5,"t":20,"v":0.63},{"y":0.5,"t":25,"v":0.65},{"y":0.5,"t":30,"v":0.67},{"y":0.5,"t":35,"v":0.7},{"y":0.5,"t":40,"v":0.7},{"y":0.5,"t":45,"v":0.7},{"y":0.5,"t":50,"v":0.7},{"y":0.5,"t":55,"v":0.7},{"y":0.5,"t":60,"v":0.7},{"y":0.5,"t":65,"v":0.7},{"y":0.5,"t":70,"v":0.7},{"y":0.5,"t":75,"v":0.7},
{"y":0.55,"t":0,"v":0.01},{"y":0.55,"t":5,"v":0.16},{"y":0.55,"t":10,"v":0.36},{"y":0.55,"t":15,"v":0.5},{"y":0.55,"t":20,"v":0.63},{"y":0.55,"t":25,"v":0.64},{"y":0.55,"t":30,"v":0.67},{"y":0.55,"t":35,"v":0.67},{"y":0.55,"t":40,"v":0.7},{"y":0.55,"t":45,"v":0.7},{"y":0.55,"t":50,"v":0.7},{"y":0.55,"t":55,"v":0.7},{"y":0.55,"t":60,"v":0.7},{"y":0.55,"t":65,"v":0.7},{"y":0.55,"t":70,"v":0.7},{"y":0.55,"t":75,"v":0.7},
{"y":0.6,"t":0,"v":0.01},{"y":0.6,"t":5,"v":0.11},{"y":0.6,"t":10,"v":0.24},{"y":0.6,"t":15,"v":0.41},{"y":0.6,"t":20,"v":0.55},{"y":0.6,"t":25,"v":0.62},{"y":0.6,"t":30,"v":0.64},{"y":0.6,"t":35,"v":0.65},{"y":0.6,"t":40,"v":0.67},{"y":0.6,"t":45,"v":0.7},{"y":0.6,"t":50,"v":0.7},{"y":0.6,"t":55,"v":0.7},{"y":0.6,"t":60,"v":0.7},{"y":0.6,"t":65,"v":0.7},{"y":0.6,"t":70,"v":0.7},{"y":0.6,"t":75,"v":0.7},
{"y":0.65,"t":0,"v":0.01},{"y":0.65,"t":5,"v":0.06},{"y":0.65,"t":10,"v":0.14},{"y":0.65,"t":15,"v":0.32},{"y":0.65,"t":20,"v":0.44},{"y":0.65,"t":25,"v":0.53},{"y":0.65,"t":30,"v":0.6},{"y":0.65,"t":35,"v":0.63},{"y":0.65,"t":40,"v":0.64},{"y":0.65,"t":45,"v":0.65},{"y":0.65,"t":50,"v":0.67},{"y":0.65,"t":55,"v":0.67},{"y":0.65,"t":60,"v":0.7},{"y":0.65,"t":65,"v":0.7},{"y":0.65,"t":70,"v":0.7},{"y":0.65,"t":75,"v":0.7},
{"y":0.7,"t":0,"v":0.01},{"y":0.7,"t":5,"v":0.06},{"y":0.7,"t":10,"v":0.1},{"y":0.7,"t":15,"v":0.24},{"y":0.7,"t":20,"v":0.38},{"y":0.7,"t":25,"v":0.48},{"y":0.7,"t":30,"v":0.58},{"y":0.7,"t":35,"v":0.62},{"y":0.7,"t":40,"v":0.63},{"y":0.7,"t":45,"v":0.64},{"y":0.7,"t":50,"v":0.65},{"y":0.7,"t":55,"v":0.65},{"y":0.7,"t":60,"v":0.67},{"y":0.7,"t":65,"v":0.67},{"y":0.7,"t":70,"v":0.7},{"y":0.7,"t":75,"v":0.7},
{"y":0.75,"t":0,"v":0.01},{"y":0.75,"t":5,"v":0.01},{"y":0.75,"t":10,"v":0.06},{"y":0.75,"t":15,"v":0.2},{"y":0.75,"t":20,"v":0.32},{"y":0.75,"t":25,"v":0.41},{"y":0.75,"t":30,"v":0.53},{"y":0.75,"t":35,"v":0.59},{"y":0.75,"t":40,"v":0.62},{"y":0.75,"t":45,"v":0.63},{"y":0.75,"t":50,"v":0.64},{"y":0.75,"t":55,"v":0.64},{"y":0.75,"t":60,"v":0.65},{"y":0.75,"t":65,"v":0.67},{"y":0.75,"t":70,"v":0.67},{"y":0.75,"t":75,"v":0.67},
{"y":0.8,"t":0,"v":0.01},{"y":0.8,"t":5,"v":0.01},{"y":0.8,"t":10,"v":0.06},{"y":0.8,"t":15,"v":0.12},{"y":0.8,"t":20,"v":0.24},{"y":0.8,"t":25,"v":0.36},{"y":0.8,"t":30,"v":0.46},{"y":0.8,"t":35,"v":0.53},{"y":0.8,"t":40,"v":0.58},{"y":0.8,"t":45,"v":0.6},{"y":0.8,"t":50,"v":0.63},{"y":0.8,"t":55,"v":0.63},{"y":0.8,"t":60,"v":0.64},{"y":0.8,"t":65,"v":0.65},{"y":0.8,"t":70,"v":0.65},{"y":0.8,"t":75,"v":0.67},
{"y":0.85,"t":0,"v":0.01},{"y":0.85,"t":5,"v":0.01},{"y":0.85,"t":10,"v":0.02},{"y":0.85,"t":15,"v":0.11},{"y":0.85,"t":20,"v":0.2},{"y":0.85,"t":25,"v":0.28},{"y":0.85,"t":30,"v":0.41},{"y":0.85,"t":35,"v":0.5},{"y":0.85,"t":40,"v":0.53},{"y":0.85,"t":45,"v":0.58},{"y":0.85,"t":50,"v":0.6},{"y":0.85,"t":55,"v":0.62},{"y":0.85,"t":60,"v":0.63},{"y":0.85,"t":65,"v":0.63},{"y":0.85,"t":70,"v":0.63},{"y":0.85,"t":75,"v":0.64},
{"y":0.9,"t":0,"v":0.01},{"y":0.9,"t":5,"v":0.01},{"y":0.9,"t":10,"v":0.01},{"y":0.9,"t":15,"v":0.1},{"y":0.9,"t":20,"v":0.14},{"y":0.9,"t":25,"v":0.2},{"y":0.9,"t":30,"v":0.28},{"y":0.9,"t":35,"v":0.38},{"y":0.9,"t":40,"v":0.44},{"y":0.9,"t":45,"v":0.5},{"y":0.9,"t":50,"v":0.58},{"y":0.9,"t":55,"v":0.6},{"y":0.9,"t":60,"v":0.6},{"y":0.9,"t":65,"v":0.62},{"y":0.9,"t":70,"v":0.63},{"y":0.9,"t":75,"v":0.63}
]},
"spacing":32,
"resolve":{"scale":{"color":"independent"},"legend":{"color":"independent"}},
"vconcat":[
{"hconcat":[
{"data":{"name":"a"},"width":203,"height":217,
"title":{"text":"(a)\u00a0 VGG-16 on CIFAR-10","orient":"bottom","offset":16,"anchor":"middle","frame":"group"},
"mark":{"type":"rect","stroke":"white","strokeWidth":1.5},
"encoding":{
"x":{"field":"t","type":"ordinal","axis":{"values":[0,10,20,30,40,50,60,70],"labelAngle":0,"title":"Time steps"}},
"y":{"field":"y","type":"ordinal","axis":{"values":[0.1,0.2,0.3,0.4,0.5,0.6,0.7,0.8,0.9],"labelAngle":-90,"title":"Initial potential"}},
"color":{"field":"v","type":"quantitative","scale":{"domain":[0.1,0.955],"range":["#083f4f","#174a45","#27563a","#3c672a","#577720","#7b8a10","#ab9a1c","#d9bf55","#fce49c"]},"legend":{"title":null,"labelFont":"Liberation Serif","labelFontSize":11,"values":[0.1,0.2,0.3,0.4,0.5,0.6,0.7,0.8,0.9]}}}},
{"data":{"name":"b"},"width":203,"height":217,
"title":{"text":"(b)\u00a0 ResNet-20 on CIFAR-10","orient":"bottom","offset":16,"anchor":"middle","frame":"group"},
"mark":{"type":"rect","stroke":"white","strokeWidth":1.5},
"encoding":{
"x":{"field":"t","type":"ordinal","axis":{"values":[0,10,20,30,40,50,60,70],"labelAngle":0,"title":"Time steps"}},
"y":{"field":"y","type":"ordinal","axis":{"values":[0.1,0.2,0.3,0.4,0.5,0.6,0.7,0.8,0.9],"labelAngle":-90,"title":"Initial potential"}},
"color":{"field":"v","type":"quantitative","scale":{"domain":[0.1,0.935],"range":["#083f4f","#174a45","#27563a","#3c672a","#577720","#7b8a10","#ab9a1c","#d9bf55","#fce49c"]},"legend":{"title":null,"labelFont":"Liberation Serif","labelFontSize":11,"values":[0.1,0.2,0.3,0.4,0.5,0.6,0.7,0.8,0.9]}}}}
],"spacing":20,"resolve":{"scale":{"color":"independent"},"legend":{"color":"independent"}}},
{"hconcat":[
{"data":{"name":"c"},"width":203,"height":217,
"title":{"text":"(c)\u00a0 VGG-16 on CIFAR-100","orient":"bottom","offset":16,"anchor":"middle","frame":"group"},
"mark":{"type":"rect","stroke":"white","strokeWidth":1.5},
"encoding":{
"x":{"field":"t","type":"ordinal","axis":{"values":[0,10,20,30,40,50,60,70],"labelAngle":0,"title":"Time steps"}},
"y":{"field":"y","type":"ordinal","axis":{"values":[0.1,0.2,0.3,0.4,0.5,0.6,0.7,0.8,0.9],"labelAngle":-90,"title":"Initial potential"}},
"color":{"field":"v","type":"quantitative","scale":{"domain":[0.008,0.772],"range":["#083f4f","#174a45","#27563a","#3c672a","#577720","#7b8a10","#ab9a1c","#d9bf55","#fce49c"]},"legend":{"title":null,"labelFont":"Liberation Serif","labelFontSize":11,"values":[0.1,0.2,0.3,0.4,0.5,0.6,0.7]}}}},
{"data":{"name":"d"},"width":203,"height":217,
"title":{"text":"(d)\u00a0 ResNet-20 on CIFAR-100","orient":"bottom","offset":16,"anchor":"middle","frame":"group"},
"mark":{"type":"rect","stroke":"white","strokeWidth":1.5},
"encoding":{
"x":{"field":"t","type":"ordinal","axis":{"values":[0,10,20,30,40,50,60,70],"labelAngle":0,"title":"Time steps"}},
"y":{"field":"y","type":"ordinal","axis":{"values":[0.1,0.2,0.3,0.4,0.5,0.6,0.7,0.8,0.9],"labelAngle":-90,"title":"Initial potential"}},
"color":{"field":"v","type":"quantitative","scale":{"domain":[0.008,0.708],"range":["#083f4f","#174a45","#27563a","#3c672a","#577720","#7b8a10","#ab9a1c","#d9bf55","#fce49c"]},"legend":{"title":null,"labelFont":"Liberation Serif","labelFontSize":11,"values":[0.1,0.2,0.3,0.4,0.5,0.6,0.7]}}}}
],"spacing":20,"resolve":{"scale":{"color":"independent"},"legend":{"color":"independent"}}}
]
}
